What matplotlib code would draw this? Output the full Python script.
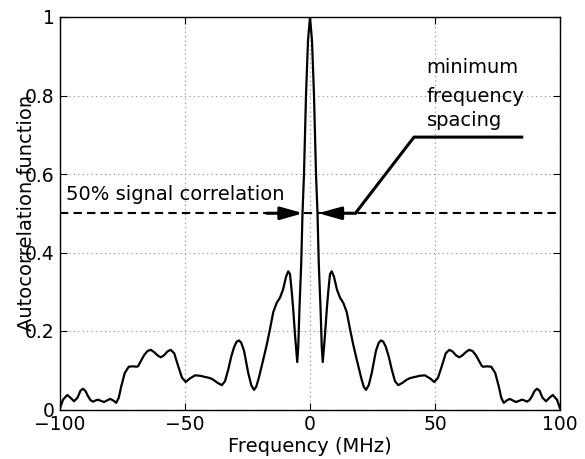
import matplotlib
matplotlib.use("Agg")
import matplotlib.pyplot as plt

# ---- data ----
freq_mhz = [
    -100, -98.8, -97.1, -95.8, -94.4, -93.0, -91.8, -90.8, -89.8, -88.8,
    -87.8, -86.8, -85.8, -84.8, -83.6, -82.4, -81.2, -79.9, -78.7, -77.5,
    -76.5, -75.5, -74.1, -72.5, -70.8, -69.5, -68.8, -67.6, -66.4, -65.0,
    -63.7, -62.3, -61.0, -59.7, -58.4, -57.0, -55.7, -54.3, -52.8, -51.2,
    -49.7, -48.3, -46.0, -44.0, -42.0, -40.0, -38.7, -37.0, -35.3, -34.0,
    -32.7, -31.5, -30.3, -29.3, -28.4, -27.5, -26.4, -25.5, -24.7, -23.5,
    -22.4, -21.5, -20.5, -18.7, -17.3, -16.0, -14.7, -13.3, -12.0, -10.8,
    -9.6, -8.7, -8.0, -7.3, -6.7, -6.0, -5.1, -4.7, -4.2, -3.5,
    -3.0, -2.4, -1.6, -0.8, 0.0,
    0.8, 1.6, 2.4, 3.0, 3.5, 4.2, 4.7, 5.1, 6.0, 6.7,
    7.3, 8.0, 8.7, 9.6, 10.8, 12.0, 13.3, 14.7, 16.0, 17.3,
    18.7, 20.5, 21.5, 22.4, 23.5, 24.7, 25.5, 26.4, 27.5, 28.4,
    29.3, 30.3, 31.5, 32.7, 34.0, 35.3, 37.0, 38.7, 40.0, 42.0,
    44.0, 46.0, 48.3, 49.7, 51.2, 52.8, 54.3, 55.7, 57.0, 58.4,
    59.7, 61.0, 62.3, 63.7, 65.0, 66.4, 67.6, 68.8, 69.5, 70.8,
    72.5, 74.1, 75.5, 76.5, 77.5, 78.7, 79.9, 81.2, 82.4, 83.6,
    84.8, 85.8, 86.8, 87.8, 88.8, 89.8, 90.8, 91.8, 93.0, 94.4,
    95.8, 97.1, 98.8, 100,
]
autocorr = [
    0.003, 0.025, 0.037, 0.030, 0.021, 0.030, 0.048, 0.053, 0.047, 0.034,
    0.024, 0.020, 0.023, 0.025, 0.022, 0.019, 0.023, 0.027, 0.023, 0.017,
    0.030, 0.059, 0.093, 0.109, 0.110, 0.109, 0.110, 0.124, 0.138, 0.149,
    0.152, 0.146, 0.138, 0.133, 0.138, 0.148, 0.152, 0.143, 0.112, 0.081,
    0.070, 0.078, 0.087, 0.086, 0.083, 0.080, 0.076, 0.068, 0.062, 0.072,
    0.102, 0.135, 0.160, 0.173, 0.176, 0.170, 0.150, 0.120, 0.093, 0.062,
    0.050, 0.058, 0.080, 0.127, 0.165, 0.205, 0.248, 0.272, 0.285, 0.305,
    0.338, 0.352, 0.345, 0.300, 0.254, 0.190, 0.121, 0.160, 0.260, 0.374,
    0.500, 0.600, 0.800, 0.940, 1.000,
    0.940, 0.800, 0.600, 0.500, 0.374, 0.260, 0.160, 0.121, 0.190, 0.254,
    0.300, 0.345, 0.352, 0.338, 0.305, 0.285, 0.272, 0.248, 0.205, 0.165,
    0.127, 0.080, 0.058, 0.050, 0.062, 0.093, 0.120, 0.150, 0.170, 0.176,
    0.173, 0.160, 0.135, 0.102, 0.072, 0.062, 0.068, 0.076, 0.080, 0.083,
    0.086, 0.087, 0.078, 0.070, 0.081, 0.112, 0.143, 0.152, 0.148, 0.138,
    0.133, 0.138, 0.146, 0.152, 0.149, 0.138, 0.124, 0.110, 0.109, 0.110,
    0.109, 0.093, 0.059, 0.030, 0.017, 0.023, 0.027, 0.023, 0.019, 0.022,
    0.025, 0.023, 0.020, 0.024, 0.034, 0.047, 0.053, 0.048, 0.030, 0.021,
    0.030, 0.037, 0.025, 0.003,
]
threshold = 0.5
xticks = [-100, -50, 0, 50, 100]
xtick_labels = ["\u2212100", "\u221250", "0", "50", "100"]
yticks = [0, 0.2, 0.4, 0.6, 0.8, 1.0]
ytick_labels = ["0", "0.2", "0.4", "0.6", "0.8", "1"]

# leader line for "minimum frequency spacing" annotation (data coords)
leader_x = [85.3, 41.6, 18.4]
leader_y = [0.694, 0.694, 0.502]
left_arrow = ((-17.3, 0.5), (-2.7, 0.5))
right_arrow = ((18.4, 0.5), (3.3, 0.5))

plt.rcParams['font.family'] = ['DejaVu Sans']

fig = plt.figure(figsize=(5.85, 4.59), dpi=100)
ax = fig.add_axes([60 / 585, 1 - 409.5 / 459, 500 / 585, 392.5 / 459])

ax.plot(freq_mhz, autocorr, color='black', lw=1.6, zorder=3)
ax.axhline(threshold, color='black', lw=1.5, linestyle=(0, (4, 2.5)), zorder=2)

ax.plot(leader_x, leader_y, color='black', lw=2.2, solid_capstyle='butt', zorder=4)
arrowprops = dict(arrowstyle='-|>,head_length=1.35,head_width=0.38',
                  color='black', lw=2.2, shrinkA=0, shrinkB=0, mutation_scale=10)
ax.annotate('', xy=left_arrow[1], xytext=left_arrow[0], arrowprops=arrowprops, zorder=4)
ax.annotate('', xy=right_arrow[1], xytext=right_arrow[0], arrowprops=arrowprops, zorder=4)

ax.text(-97.6, 0.534, '50% signal correlation', fontsize=14, va='baseline', ha='left')
ax.text(46.7, 0.857, 'minimum', fontsize=14, va='baseline', ha='left')
ax.text(46.7, 0.784, 'frequency', fontsize=14, va='baseline', ha='left')
ax.text(46.7, 0.722, 'spacing', fontsize=14, va='baseline', ha='left')

ax.set_xlim(-100, 100)
ax.set_ylim(0, 1)
ax.set_xticks(xticks)
ax.set_xticklabels(xtick_labels)
ax.set_yticks(yticks)
ax.set_yticklabels(ytick_labels)
ax.tick_params(direction='in', length=5, width=0.8, top=True, right=True,
               labelsize=13.5, pad=4)
ax.grid(True, linestyle=(0, (1, 3)), color='0.55', lw=0.8)
for s in ax.spines.values():
    s.set_linewidth(1.0)

ax.set_xlabel('Frequency (MHz)', fontsize=14, va='center')
ax.xaxis.set_label_coords(0.5, -0.095)
ax.set_ylabel('Autocorrelation function', fontsize=14, va='center')
ax.yaxis.set_label_coords(-0.066, 0.5)

fig.savefig('out.png', dpi=100)
